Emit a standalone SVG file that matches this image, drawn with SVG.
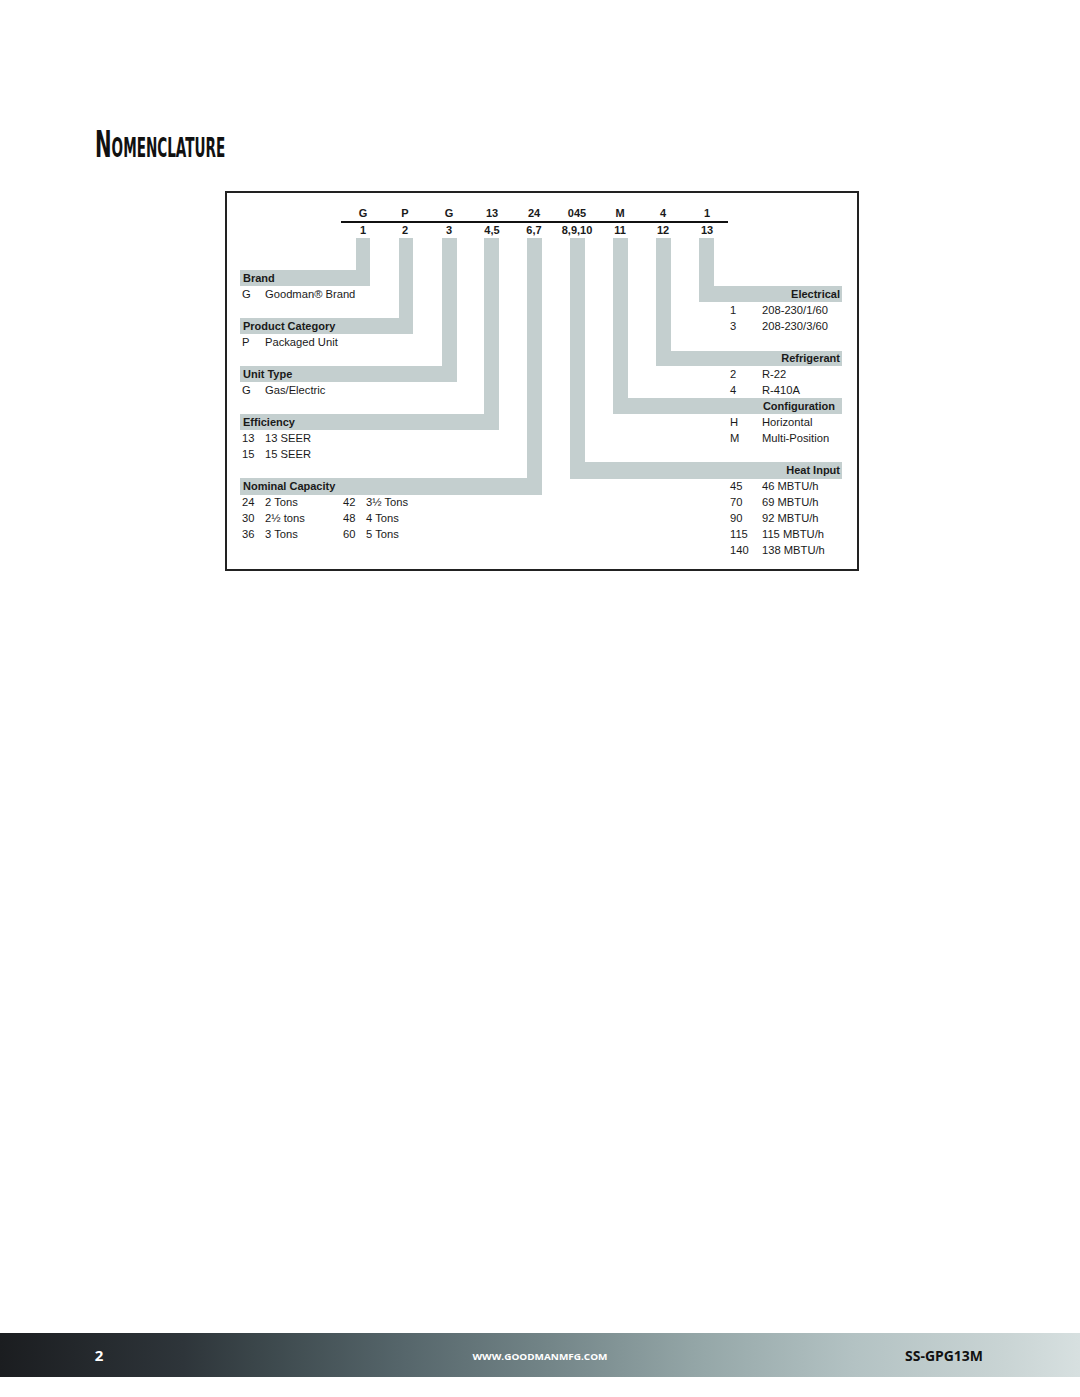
<svg xmlns="http://www.w3.org/2000/svg" width="1080" height="1397" viewBox="0 0 1080 1397">
<defs>
<linearGradient id="foot" x1="0" y1="0" x2="1" y2="0">
<stop offset="0" stop-color="#1b1d20"/>
<stop offset="0.17" stop-color="#2e353a"/>
<stop offset="0.25" stop-color="#3d494d"/>
<stop offset="0.37" stop-color="#55656a"/>
<stop offset="0.5" stop-color="#718386"/>
<stop offset="0.65" stop-color="#95a7a8"/>
<stop offset="0.79" stop-color="#b3c2c3"/>
<stop offset="0.93" stop-color="#c9d4d4"/>
<stop offset="1" stop-color="#d7e0e0"/>
</linearGradient>
</defs>
<style>
text{font-family:"Liberation Sans",Arial,sans-serif;fill:#1a1a1a}
.t{font-size:11.2px}
.b{font-size:11px;font-weight:bold}
.r{text-anchor:end}
.m{text-anchor:middle}
.bar{fill:#c4cfcf}
.ttl{font-family:"DejaVu Sans Condensed","DejaVu Sans",sans-serif;font-weight:bold;fill:#111}
</style>
<rect width="1080" height="1397" fill="#ffffff"/>
<g id="title">
<text class="ttl" transform="translate(95,157) scale(0.58,1)" x="0" y="0"><tspan font-size="38">N</tspan><tspan font-size="26">OMENCLATURE</tspan></text>
</g>
<rect x="226" y="192" width="632" height="378" fill="#ffffff" stroke="#222" stroke-width="2"/>
<g id="connectors">
<path class="bar" d="M356 238H370V286H240V270H356Z"/>
<path class="bar" d="M399 238H413V334H240V318H399Z"/>
<path class="bar" d="M442 238H457V382H240V366H442Z"/>
<path class="bar" d="M484 238H499V430H240V414H484Z"/>
<path class="bar" d="M527 238H542V495H240V478H527Z"/>
<path class="bar" d="M570 238H585V462H842V479H570Z"/>
<path class="bar" d="M613 238H628V398H842V414H613Z"/>
<path class="bar" d="M656 238H671V351H842V366H656Z"/>
<path class="bar" d="M699 238H714V286H842V302H699Z"/>
</g>
<g id="header">
<line x1="341" y1="222" x2="728" y2="222" stroke="#111" stroke-width="2.2"/>
<text class="b m" x="363" y="217">G</text>
<text class="b m" x="405" y="217">P</text>
<text class="b m" x="449" y="217">G</text>
<text class="b m" x="492" y="217">13</text>
<text class="b m" x="534" y="217">24</text>
<text class="b m" x="577" y="217">045</text>
<text class="b m" x="620" y="217">M</text>
<text class="b m" x="663" y="217">4</text>
<text class="b m" x="707" y="217">1</text>
<text class="b m" x="363" y="234">1</text>
<text class="b m" x="405" y="234">2</text>
<text class="b m" x="449" y="234">3</text>
<text class="b m" x="492" y="234">4,5</text>
<text class="b m" x="534" y="234">6,7</text>
<text class="b m" x="577" y="234">8,9,10</text>
<text class="b m" x="620" y="234">11</text>
<text class="b m" x="663" y="234">12</text>
<text class="b m" x="707" y="234">13</text>
</g>
<g id="brand">
<text class="b" x="243" y="282">Brand</text>
<text class="t" x="242" y="298">G</text><text class="t" x="265" y="298">Goodman® Brand</text>
</g>
<g id="product-category">
<text class="b" x="243" y="330">Product Category</text>
<text class="t" x="242" y="346">P</text><text class="t" x="265" y="346">Packaged Unit</text>
</g>
<g id="unit-type">
<text class="b" x="243" y="378">Unit Type</text>
<text class="t" x="242" y="394">G</text><text class="t" x="265" y="394">Gas/Electric</text>
</g>
<g id="efficiency">
<text class="b" x="243" y="426">Efficiency</text>
<text class="t" x="242" y="442">13</text><text class="t" x="265" y="442">13 SEER</text>
<text class="t" x="242" y="458">15</text><text class="t" x="265" y="458">15 SEER</text>
</g>
<g id="nominal-capacity">
<text class="b" x="243" y="490">Nominal Capacity</text>
<text class="t" x="242" y="506">24</text><text class="t" x="265" y="506">2 Tons</text>
<text class="t" x="242" y="522">30</text><text class="t" x="265" y="522">2½ tons</text>
<text class="t" x="242" y="538">36</text><text class="t" x="265" y="538">3 Tons</text>
<text class="t" x="343" y="506">42</text><text class="t" x="366" y="506">3½ Tons</text>
<text class="t" x="343" y="522">48</text><text class="t" x="366" y="522">4 Tons</text>
<text class="t" x="343" y="538">60</text><text class="t" x="366" y="538">5 Tons</text>
</g>
<g id="electrical">
<text class="b r" x="840" y="298">Electrical</text>
<text class="t" x="730" y="314">1</text><text class="t" x="762" y="314">208-230/1/60</text>
<text class="t" x="730" y="330">3</text><text class="t" x="762" y="330">208-230/3/60</text>
</g>
<g id="refrigerant">
<text class="b r" x="840" y="362">Refrigerant</text>
<text class="t" x="730" y="378">2</text><text class="t" x="762" y="378">R-22</text>
<text class="t" x="730" y="394">4</text><text class="t" x="762" y="394">R-410A</text>
</g>
<g id="configuration">
<text class="b r" x="835" y="410">Configuration</text>
<text class="t" x="730" y="426">H</text><text class="t" x="762" y="426">Horizontal</text>
<text class="t" x="730" y="442">M</text><text class="t" x="762" y="442">Multi-Position</text>
</g>
<g id="heat-input">
<text class="b r" x="840" y="474">Heat Input</text>
<text class="t" x="730" y="490">45</text><text class="t" x="762" y="490">46 MBTU/h</text>
<text class="t" x="730" y="506">70</text><text class="t" x="762" y="506">69 MBTU/h</text>
<text class="t" x="730" y="522">90</text><text class="t" x="762" y="522">92 MBTU/h</text>
<text class="t" x="730" y="538">115</text><text class="t" x="762" y="538">115 MBTU/h</text>
<text class="t" x="730" y="554">140</text><text class="t" x="762" y="554">138 MBTU/h</text>
</g>
<g id="footer">
<rect x="0" y="1333" width="1080" height="44" fill="url(#foot)"/>
<text x="99" y="1361" text-anchor="middle" style="font-family:'Open Sans','DejaVu Sans',sans-serif;font-size:15px;font-weight:bold;fill:#ffffff">2</text>
<text x="540" y="1360" text-anchor="middle" textLength="135" lengthAdjust="spacingAndGlyphs" style="font-family:'Open Sans','DejaVu Sans',sans-serif;font-size:8.5px;font-weight:bold;fill:#ffffff">WWW.GOODMANMFG.COM</text>
<text x="905" y="1361" textLength="78" lengthAdjust="spacingAndGlyphs" style="font-family:'Open Sans','DejaVu Sans',sans-serif;font-size:14px;font-weight:bold;fill:#111">SS-GPG13M</text>
</g>
</svg>
